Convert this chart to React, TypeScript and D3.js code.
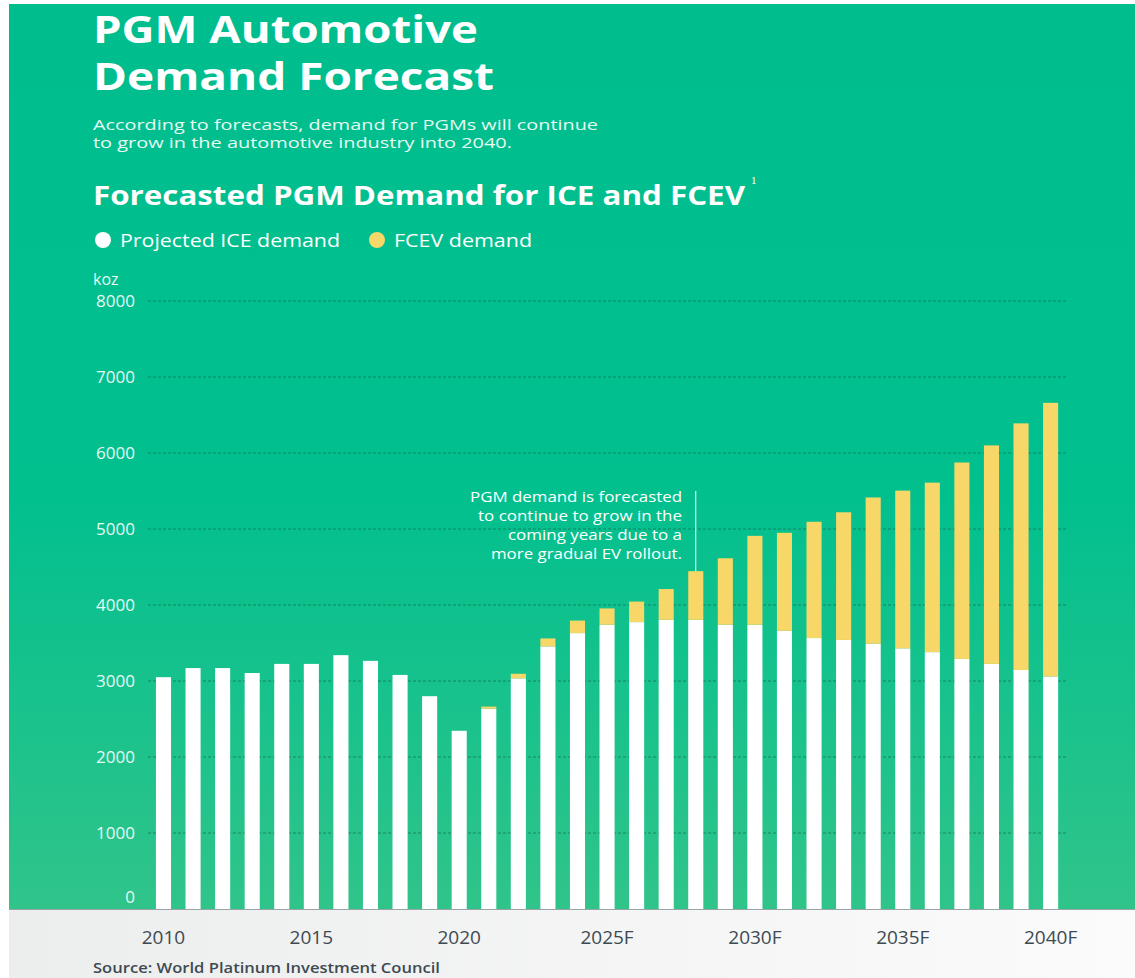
import React from "react";
import * as d3 from "d3";

const years = ["2010","2011","2012","2013","2014","2015","2016","2017","2018","2019","2020","2021","2022","2023","2024","2025","2026","2027","2028","2029","2030","2031","2032","2033","2034","2035","2036","2037","2038","2039","2040"];
const iceDemand = [3050,3170,3170,3105,3225,3225,3340,3265,3080,2800,2345,2635,3035,3455,3630,3740,3775,3805,3805,3740,3740,3660,3565,3540,3490,3430,3380,3290,3225,3145,3060];
const fcevDemand = [0,0,0,0,0,0,0,0,0,0,0,28,60,105,165,215,270,405,640,875,1170,1290,1530,1680,1925,2075,2230,2585,2875,3245,3600];
const yTicks = [0,1000,2000,3000,4000,5000,6000,7000,8000];
const xTickYears = ["2010","2015","2020","2025","2030","2035","2040"];
const xTickLabels = ["2010","2015","2020","2025F","2030F","2035F","2040F"];
const seriesNames = ["Projected ICE demand", "FCEV demand"];
const annotationLines = ["PGM demand is forecasted","to continue to grow in the","coming years due to a","more gradual EV rollout."];
const annotationYear = "2028";

const W = 1135, H = 978;
const FONT = "'Open Sans', 'Noto Sans', sans-serif";
const WHITE = "#ffffff";
const YELLOW = "#F8D769";
const DARK = "#3E4A52";

export default function App() {
  const x = d3.scaleBand<string>().domain(years).range([148.7, 1065.4]).paddingInner(0.49).paddingOuter(0.245);
  const y = d3.scaleLinear().domain([0, 8000]).range([909, 301]);
  const stackData = years.map((yr, i) => ({ year: yr, ice: iceDemand[i], fcev: fcevDemand[i] }));
  const stack = d3.stack<any>().keys(["ice", "fcev"])(stackData);
  const colors = [WHITE, YELLOW];
  const bw = x.bandwidth();
  const annIdx = years.indexOf(annotationYear);
  const annX = (x(annotationYear) as number) + bw / 2;
  const annTop = y(iceDemand[annIdx] + fcevDemand[annIdx]);
  const annWidths = [212, 204, 174, 191];

  return (
    <svg width={W} height={H} style={{ position: "absolute", left: 0, top: 0, display: "block" }}>
      <defs>
        <linearGradient id="bg" x1="0" y1="0" x2="0" y2="1">
          <stop offset="0" stopColor="#00BD8E" />
          <stop offset="0.55" stopColor="#02C08E" />
          <stop offset="1" stopColor="#30C48A" />
        </linearGradient>
        <linearGradient id="foot" x1="0" y1="0" x2="1" y2="0">
          <stop offset="0" stopColor="#ECEDED" />
          <stop offset="1" stopColor="#FBFBFB" />
        </linearGradient>
      </defs>
      <rect x={0} y={0} width={W} height={H} fill="#ffffff" />
      <rect x={9} y={4} width={W - 9} height={905} fill="url(#bg)" />
      <rect x={9} y={909} width={W - 9} height={H - 909} fill="url(#foot)" />
      <line x1={9} x2={W} y1={909.5} y2={909.5} stroke="#9aa3a6" strokeWidth={1} />

      {/* titles */}
      <text x={93} y={43} fill={WHITE} fontFamily={FONT} fontWeight={700} fontSize={37} textLength={385} lengthAdjust="spacingAndGlyphs">PGM Automotive</text>
      <text x={93} y={90} fill={WHITE} fontFamily={FONT} fontWeight={700} fontSize={37} textLength={401} lengthAdjust="spacingAndGlyphs">Demand Forecast</text>
      <text x={93} y={130} fill="#E6FAF2" fontFamily={FONT} fontSize={14.5} textLength={505} lengthAdjust="spacingAndGlyphs">According to forecasts, demand for PGMs will continue</text>
      <text x={93} y={148} fill="#E6FAF2" fontFamily={FONT} fontSize={14.5} textLength={419} lengthAdjust="spacingAndGlyphs">to grow in the automotive industry into 2040.</text>
      <text x={93} y={205} fill={WHITE} fontFamily={FONT} fontWeight={700} fontSize={26} textLength={652} lengthAdjust="spacingAndGlyphs">Forecasted PGM Demand for ICE and FCEV</text>
      <text x={751} y={184} fill={WHITE} fontFamily="'Liberation Serif', serif" fontSize={11}>1</text>

      {/* legend */}
      <circle cx={103} cy={240} r={8} fill={WHITE} />
      <text x={120} y={247} fill={WHITE} fontFamily={FONT} fontSize={18} textLength={220} lengthAdjust="spacingAndGlyphs">{seriesNames[0]}</text>
      <circle cx={377} cy={240} r={8} fill={YELLOW} />
      <text x={394} y={247} fill={WHITE} fontFamily={FONT} fontSize={18} textLength={138} lengthAdjust="spacingAndGlyphs">{seriesNames[1]}</text>

      {/* y axis */}
      <text x={93} y={285} fill="#E6FAF2" fontFamily={FONT} fontSize={16}>koz</text>
      {yTicks.map((t) => (
        <g key={t}>
          {t > 0 && (
            <line x1={148} x2={1066} y1={y(t)} y2={y(t)} stroke="#0A6048" strokeOpacity={0.6} strokeWidth={1} strokeDasharray="3,2" />
          )}
          <text x={135} y={t === 0 ? y(t) - 12 : y(t)} dy="0.35em" textAnchor="end" fill="#E6FAF2" fontFamily={FONT} fontSize={17}>{t}</text>
        </g>
      ))}

      {/* bars */}
      {stack.map((s, si) => (
        <g key={si} fill={colors[si]}>
          {s.map((d: any, i: number) => {
            const h = y(d[0]) - y(d[1]);
            if (h <= 0) return null;
            return <rect key={i} x={x(years[i])} y={y(d[1])} width={bw} height={h} />;
          })}
        </g>
      ))}

      {/* annotation */}
      <line x1={annX} x2={annX} y1={491} y2={annTop} stroke={WHITE} strokeWidth={1} />
      {annotationLines.map((l, i) => (
        <text key={i} x={682} y={502 + i * 19} textAnchor="end" fill={WHITE} fontFamily={FONT} fontSize={14.5} textLength={annWidths[i]} lengthAdjust="spacingAndGlyphs">{l}</text>
      ))}

      {/* x axis */}
      {xTickYears.map((yr, i) => (
        <text key={yr} x={(x(yr) as number) + bw / 2} y={944} textAnchor="middle" fill={DARK} fontFamily={FONT} fontSize={19}>{xTickLabels[i]}</text>
      ))}

      <text x={93} y={973} fill={DARK} fontFamily={FONT} fontWeight={600} fontSize={14} textLength={347} lengthAdjust="spacingAndGlyphs">Source: World Platinum Investment Council</text>
    </svg>
  );
}
